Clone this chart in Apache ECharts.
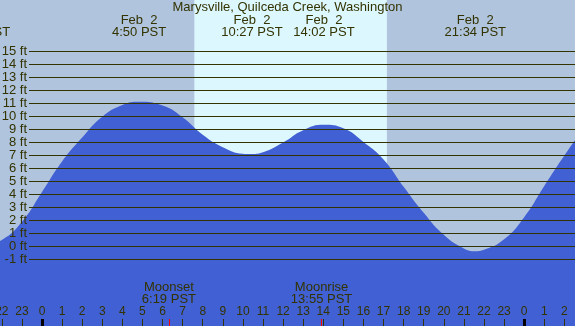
<!DOCTYPE html>
<html>
<head>
<meta charset="utf-8">
<script src="https://cdn.jsdelivr.net/npm/echarts@6/dist/echarts.min.js"></script>
<style>
  html, body { margin: 0; padding: 0; }
  #chart { width: 575px; height: 326px; }
</style>
</head>
<body>
<div id="chart"></div>
<script>
// tide heights, hours counted from midnight Feb 2
var tideHours = [-3.12, -2, -1, 0, 1, 2, 3, 4, 4.83, 6, 7, 8, 9, 10, 10.45, 11, 12, 13, 14.03, 15, 16, 17, 18, 19, 20, 21, 21.57, 22, 23, 24, 25, 26, 27];
var tideFeet = [-0.1, 0.5, 1.9, 4.2, 6.55, 8.4, 10.0, 10.9, 11.15, 10.85, 9.95, 8.6, 7.65, 7.15, 7.12, 7.25, 8.0, 8.95, 9.37, 9.1, 8.05, 6.7, 4.6, 2.6, 0.9, -0.15, -0.36, -0.25, 0.55, 2.25, 4.65, 7.0, 9.2];

// high / low tide labels along the top
var extremaDays = ["Feb  1", "Feb  2", "Feb  2", "Feb  2", "Feb  2"];
var extremaTimes = ["20:53", "4:50", "10:27", "14:02", "21:34"];
var extremaDayOffset = [-1, 0, 0, 0, 0];

var moonEvents = ["Moonset", "Moonrise"];
var moonTimes = ["6:19", "13:55"];
var sunTimes = ["7:35", "17:10"];
var midnights = [0, 24];
var hourTicks = [-2, -1, 0, 1, 2, 3, 4, 5, 6, 7, 8, 9, 10, 11, 12, 13, 14, 15, 16, 17, 18, 19, 20, 21, 22, 23, 24, 25, 26];
var feetLevels = [-1, 15];

// visible window in hours / feet
var hourMin = -2.09, hourMax = 26.53;
var feetMin = -6.12, feetMax = 18.98;

var txt = "#333300";
var font = "Liberation Sans";

function toHours(t, dayOff) {
  var p = t.split(":");
  return (dayOff || 0) * 24 + parseInt(p[0]) + parseInt(p[1]) / 60;
}
var extremaHours = extremaTimes.map(function (t, i) { return toHours(t, extremaDayOffset[i]); });
var moonHours = moonTimes.map(function (t) { return toHours(t); });
var sunHours = sunTimes.map(function (t) { return toHours(t); });

function nearest(arr, v) {
  var best = 0;
  arr.forEach(function (a, i) { if (Math.abs(a - v) < Math.abs(arr[best] - v)) best = i; });
  return best;
}
function extremaText(i) {
  return extremaDays[i] + "\n" + extremaTimes[i] + " PST";
}

var tideData = tideHours.map(function (h, i) { return [h, tideFeet[i]]; });

var noLine = { show: false, onZero: false };
var labelFont = { fontSize: 13, lineHeight: 12, fontFamily: font, color: txt };

var chart = echarts.init(document.getElementById("chart"));
var option = {
  animation: false,
  backgroundColor: "#b0c4de",
  title: {
    text: "Marysville, Quilceda Creek, Washington",
    left: "center",
    top: 1,
    padding: 0,
    textStyle: { fontSize: 13, fontWeight: "normal", fontFamily: font, color: txt, lineHeight: 13 }
  },
  grid: [
    { left: 0, right: 0, top: 0, bottom: 0, outerBoundsMode: "none" },
    { left: 29, right: 0, top: 51.65, bottom: 66.51, outerBoundsMode: "none" }
  ],
  xAxis: [
    {
      type: "value", gridIndex: 0, min: hourMin, max: hourMax,
      position: "bottom", z: 10,
      axisLine: noLine,
      splitLine: { show: false },
      axisTick: { customValues: hourTicks, inside: true, length: 7, lineStyle: { color: txt, width: 1 } },
      axisLabel: {
        customValues: hourTicks,
        inside: true, margin: 8.5,
        fontSize: 12, lineHeight: 12, fontFamily: font, color: txt,
        formatter: function (v) { return String(((Math.round(v) % 24) + 24) % 24); }
      }
    },
    {
      type: "value", gridIndex: 0, min: hourMin, max: hourMax,
      position: "top", z: 10,
      axisLine: noLine, axisTick: { show: false }, splitLine: { show: false },
      axisLabel: Object.assign({
        customValues: extremaHours,
        inside: true, margin: 14,
        formatter: function (v) { return extremaText(nearest(extremaHours, v)); }
      }, labelFont)
    },
    {
      type: "value", gridIndex: 0, min: hourMin, max: hourMax,
      position: "bottom", z: 11,
      axisLine: noLine, splitLine: { show: false },
      axisLabel: { show: false },
      axisTick: { customValues: midnights, inside: true, length: 7, lineStyle: { color: "#000000", width: 3 } }
    },
    {
      type: "value", gridIndex: 0, min: hourMin, max: hourMax,
      position: "bottom", z: 11,
      axisLine: noLine, splitLine: { show: false },
      axisTick: { customValues: moonHours, inside: true, length: 7, lineStyle: { color: "#ff0000", width: 1 } },
      axisLabel: Object.assign({
        customValues: moonHours,
        inside: true, margin: 20.5,
        formatter: function (v) {
          var i = nearest(moonHours, v);
          return moonEvents[i] + "\n" + moonTimes[i] + " PST";
        }
      }, labelFont)
    },
    { type: "value", gridIndex: 1, min: 0, max: 1, show: false }
  ],
  yAxis: [
    { type: "value", gridIndex: 0, min: feetMin, max: feetMax, show: false },
    {
      type: "value", gridIndex: 1, min: feetLevels[0], max: feetLevels[1], interval: 1,
      position: "left", z: 10,
      axisLine: noLine, axisTick: { show: false },
      axisLabel: { margin: 2, fontSize: 13, fontFamily: font, color: txt, formatter: "{value} ft" },
      splitLine: { show: true, showMinLine: true, showMaxLine: true, lineStyle: { color: txt, width: 1 } }
    }
  ],
  series: [
    {
      type: "line",
      xAxisIndex: 0,
      yAxisIndex: 0,
      data: tideData,
      smooth: 0.5,
      showSymbol: false,
      silent: true,
      lineStyle: { width: 0 },
      areaStyle: { color: "#4160d4", opacity: 1, origin: "start" },
      markArea: {
        silent: true,
        itemStyle: { color: "#ddf7ff" },
        data: [[{ xAxis: sunHours[0] }, { xAxis: sunHours[1] }]]
      }
    }
  ]
};
chart.setOption(option);

// the first extremum lies left of the window; place its label through the same x scale
var firstX = chart.convertToPixel({ xAxisIndex: 0 }, extremaHours[0]);
chart.setOption({
  graphic: [{
    type: "text",
    x: firstX,
    y: 14,
    silent: true,
    z: 10,
    style: {
      text: extremaText(0),
      align: "center",
      verticalAlign: "top",
      font: "13px '" + font + "'",
      lineHeight: 12,
      fill: txt
    }
  }]
});
</script>
</body>
</html>
